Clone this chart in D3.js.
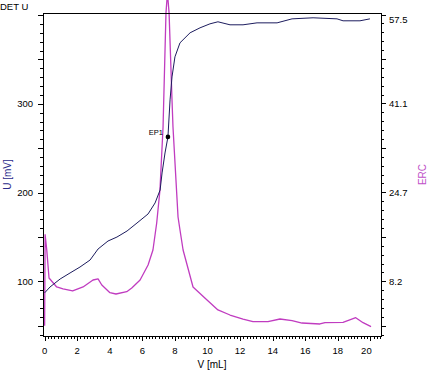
<!DOCTYPE html>
<html>
<head>
<meta charset="utf-8">
<script src="https://cdn.jsdelivr.net/npm/d3@7"></script>
<style>
  body { margin: 0; background: #fff; }
  svg { display: block; font-family: "Liberation Sans", Arial, sans-serif; }
</style>
</head>
<body>
<svg id="graph" width="429" height="371"></svg>
<script>
// potential curve (DET U)
const uVolume = [0, 0.33, 0.95, 1.56, 2.17, 2.79, 3.28, 3.89, 4.44, 5.06, 5.67, 6.35, 6.78, 7.09, 7.21, 7.39, 7.57, 7.70, 7.82, 8.00, 8.31, 8.93, 9.54, 10.15, 10.64, 11.38, 12.18, 13.04, 14.27, 15.19, 16.48, 17.95, 18.32, 19.36, 19.97];
const uValues = [87, 93.6, 102.6, 109.4, 116.1, 124, 136.4, 145.4, 149.9, 156.7, 165.7, 175.9, 188.3, 202.9, 222.1, 244.6, 262.7, 304.4, 330.3, 352.9, 368.7, 380, 385.6, 390.1, 392.4, 389, 389, 391.2, 391.2, 395.7, 396.9, 395.7, 393.5, 393.5, 395.7];

// ERC curve
const ercVolume = [0, 0.03, 0.13, 0.27, 0.74, 1.13, 1.72, 2.36, 2.97, 3.28, 3.51, 4.01, 4.38, 5.04, 5.35, 5.86, 6.35, 6.65, 6.88, 7.08, 7.27, 7.45, 7.54, 7.64, 7.82, 7.88, 8.19, 8.31, 8.50, 9.11, 9.97, 10.64, 11.38, 12.18, 12.79, 13.71, 14.45, 15.19, 15.80, 16.90, 17.21, 18.32, 19.10, 19.55, 20.04];
const ercValues = [0, 16.8, 14.0, 8.8, 7.15, 6.78, 6.41, 7.15, 8.44, 8.63, 7.52, 6.09, 5.85, 6.28, 6.96, 8.44, 11.21, 13.98, 18.97, 25.07, 36.7, 57.8, 61.5, 57.8, 41.7, 36.7, 20.08, 17.68, 13.98, 7.15, 4.74, 2.9, 1.97, 1.23, 0.73, 0.73, 1.23, 0.92, 0.49, 0.31, 0.55, 0.62, 1.47, 0.55, -0.19];

// endpoint
const epLabel = "EP1";
const epVolume = 7.57;
const epU = 262.7;

// tick labels
const xTickLabels = [0, 2, 4, 6, 8, 10, 12, 14, 16, 18, 20];
const uTickLabels = [100, 200, 300];
const ercTickLabels = [8.2, 24.7, 41.1, 57.5];

const svg = d3.select("#graph");
const plotLeft = 43, plotRight = 381, plotTop = 13, plotBottom = 336;
const navy = "#1c1c5e";
const pink = "#c03cc0";

const x = d3.scaleLinear().domain([-0.1, 20.65]).range([plotLeft, plotRight]);
const yU = d3.scaleLinear().domain([38.4, 402.3]).range([plotBottom, plotTop]);
const yE = d3.scaleLinear().domain([-1.91, 57.78]).range([plotBottom, plotTop]);

// ERC line (drawn first, under potential)
svg.append("path")
  .datum(d3.zip(ercVolume, ercValues))
  .attr("fill", "none")
  .attr("stroke", pink)
  .attr("stroke-width", 1.3)
  .attr("stroke-linejoin", "round")
  .attr("d", d3.line().x((d) => x(d[0])).y((d) => yE(d[1])));

svg.append("path")
  .datum(d3.zip(uVolume, uValues))
  .attr("fill", "none")
  .attr("stroke", navy)
  .attr("stroke-width", 1)
  .attr("stroke-linejoin", "round")
  .attr("d", d3.line().x((d) => x(d[0])).y((d) => yU(d[1])));

// frame
svg.append("rect")
  .attr("x", plotLeft + 0.5)
  .attr("y", plotTop + 0.5)
  .attr("width", plotRight - plotLeft)
  .attr("height", plotBottom - plotTop)
  .attr("fill", "none")
  .attr("stroke", "#000")
  .attr("shape-rendering", "crispEdges");

// minor ticks
const xMinor = d3.range(0, 20.61, 0.2);
const uMinor = d3.range(40, 401, 10);
const ercMinor = d3.range(-6, 31).map((k) => 8.2 + k * 1.643);

const ticks = svg.append("g").attr("stroke", "#000").attr("shape-rendering", "crispEdges");
ticks.selectAll("line.xt")
  .data(xMinor)
  .join("line")
  .attr("class", "xt")
  .attr("x1", (d) => Math.round(x(d)) + 0.5)
  .attr("x2", (d) => Math.round(x(d)) + 0.5)
  .attr("y1", plotBottom)
  .attr("y2", (d) => plotBottom + (Math.abs(d / 2 - Math.round(d / 2)) < 0.01 ? 5 : 3));
ticks.selectAll("line.ut")
  .data(uMinor)
  .join("line")
  .attr("class", "ut")
  .attr("y1", (d) => Math.round(yU(d)) + 0.5)
  .attr("y2", (d) => Math.round(yU(d)) + 0.5)
  .attr("x1", plotLeft)
  .attr("x2", (d) => plotLeft - (d % 50 === 0 ? 5 : 3));
ticks.selectAll("line.et")
  .data(ercMinor)
  .join("line")
  .attr("class", "et")
  .attr("y1", (d) => Math.round(yE(d)) + 0.5)
  .attr("y2", (d) => Math.round(yE(d)) + 0.5)
  .attr("x1", plotRight)
  .attr("x2", (d, i) => plotRight + ((i - 6) % 5 === 0 ? 5 : 3));

// tick labels
svg.append("g")
  .attr("font-size", 9.5)
  .attr("text-anchor", "middle")
  .selectAll("text")
  .data(xTickLabels)
  .join("text")
  .attr("x", (d) => x(d) + (d === 20 ? -4 : 0))
  .attr("y", 354)
  .text((d) => d);

svg.append("g")
  .attr("font-size", 9.5)
  .attr("text-anchor", "end")
  .selectAll("text")
  .data(uTickLabels)
  .join("text")
  .attr("x", 33)
  .attr("y", (d) => yU(d) + 3.5)
  .text((d) => d);

svg.append("g")
  .attr("font-size", 9.5)
  .selectAll("text")
  .data(ercTickLabels)
  .join("text")
  .attr("x", 389)
  .attr("y", (d) => Math.max(yE(d) + 3.5, 23))
  .text((d) => d.toFixed(1));

// titles
svg.append("text").attr("x", 0).attr("y", 10).attr("font-size", 9.5).text("DET U");
svg.append("text")
  .attr("transform", `translate(11,${(plotTop + plotBottom) / 2}) rotate(-90)`)
  .attr("text-anchor", "middle")
  .attr("font-size", 10)
  .attr("fill", "#2a2a8a")
  .text("U [mV]");
svg.append("text")
  .attr("transform", `translate(426,${(plotTop + plotBottom) / 2}) rotate(-90)`)
  .attr("text-anchor", "middle")
  .attr("font-size", 10)
  .attr("fill", "#c050c8")
  .text("ERC");
svg.append("text")
  .attr("x", (plotLeft + plotRight) / 2)
  .attr("y", 368)
  .attr("text-anchor", "middle")
  .attr("font-size", 10)
  .text("V [mL]");

// endpoint marker
svg.append("circle")
  .attr("cx", x(epVolume))
  .attr("cy", yU(epU))
  .attr("r", 2.3)
  .attr("fill", "#000");
svg.append("text")
  .attr("x", x(epVolume) - 5)
  .attr("y", yU(epU) - 2)
  .attr("text-anchor", "end")
  .attr("font-size", 7.5)
  .text(epLabel);
</script>
</body>
</html>
